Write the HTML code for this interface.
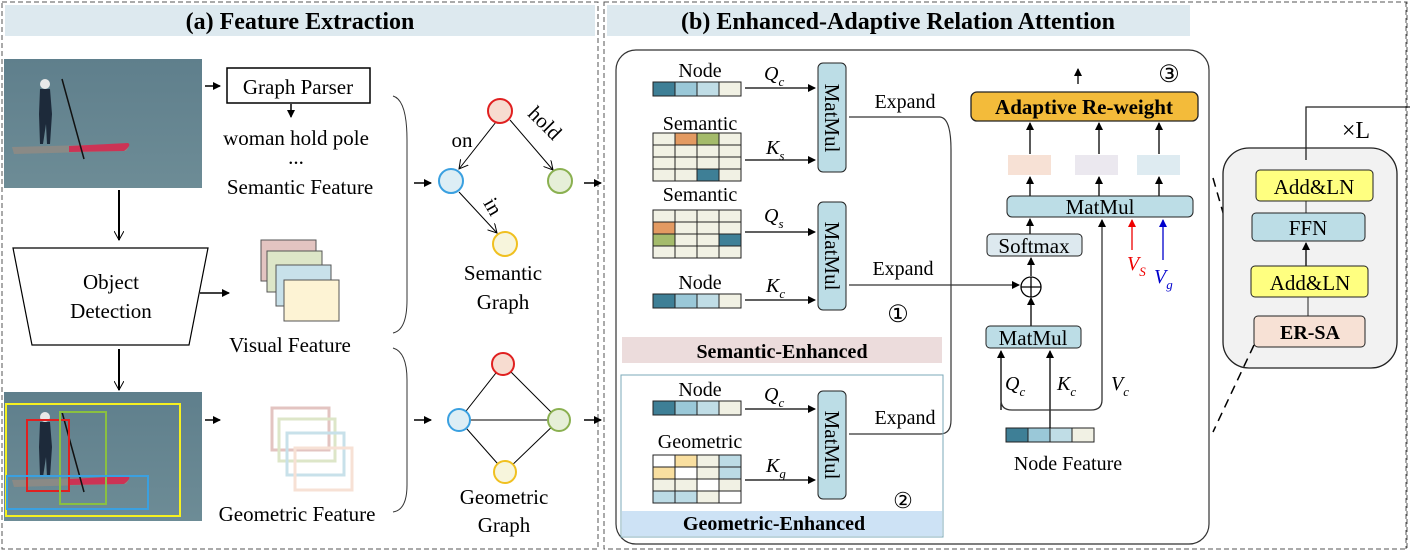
<!DOCTYPE html>
<html><head><meta charset="utf-8"><style>
html,body{margin:0;padding:0;background:#fff}
svg{display:block;font-family:"Liberation Serif",serif}
</style></head><body>
<svg width="1410" height="554" viewBox="0 0 1410 554" xmlns="http://www.w3.org/2000/svg">
<defs>
<marker id="a" markerWidth="8" markerHeight="8" refX="7" refY="4" orient="auto" markerUnits="userSpaceOnUse"><path d="M0,0 L8,4 L0,8 z" fill="#000"/></marker>
<marker id="ar" markerWidth="8" markerHeight="8" refX="7" refY="4" orient="auto" markerUnits="userSpaceOnUse"><path d="M0,0 L8,4 L0,8 z" fill="#e00"/></marker>
<marker id="ab" markerWidth="8" markerHeight="8" refX="7" refY="4" orient="auto" markerUnits="userSpaceOnUse"><path d="M0,0 L8,4 L0,8 z" fill="#00c"/></marker>
<marker id="o" markerWidth="10" markerHeight="10" refX="9" refY="5" orient="auto" markerUnits="userSpaceOnUse"><path d="M0,0 L9,5 L0,10" fill="none" stroke="#000"/></marker>
<linearGradient id="w" x1="0" y1="0" x2="0" y2="1"><stop offset="0" stop-color="#5f7f8c"/><stop offset="1" stop-color="#6d8c96"/></linearGradient>
<g id="photo">
<rect width="198" height="129" fill="url(#w)"/>
<path d="M8,88 L120,85 Q128,86 122,92 L10,95 z" fill="#8a8a86"/>
<path d="M65,87 L124,84 Q128,86 120,92 L65,93 z" fill="#cc3355"/>
<path d="M36,30 l10,0 l2,25 l-2,30 l-3,0 l-1,-20 l-3,20 l-3,0 l-1,-30 z" fill="#1d2a3a"/>
<circle cx="41" cy="25" r="5" fill="#e8e8e8"/>
<line x1="58" y1="20" x2="80" y2="100" stroke="#111" stroke-width="1.5"/>
</g>
</defs>

<!-- panel a -->
<rect x="2" y="2" width="596" height="547" fill="none" stroke="#555" stroke-dasharray="5,3"/>
<rect x="5" y="5" width="590" height="31" fill="#dde9ef"/>
<text x="300" y="29" font-size="24" font-weight="bold" text-anchor="middle">(a) Feature Extraction</text>

<use href="#photo" x="4" y="59"/>
<line x1="205" y1="86" x2="220" y2="86" stroke="#000" stroke-width="1.5" marker-end="url(#a)"/>
<rect x="227" y="68" width="143" height="35" fill="#fff" stroke="#000" stroke-width="1.5"/>
<text x="298" y="94" font-size="21" text-anchor="middle">Graph Parser</text>
<line x1="291" y1="104" x2="291" y2="117" stroke="#000" stroke-width="1.5" marker-end="url(#a)"/>
<text x="296" y="145" font-size="21" text-anchor="middle">woman hold pole</text>
<text x="296" y="164" font-size="21" text-anchor="middle">...</text>
<text x="300" y="194" font-size="21" text-anchor="middle">Semantic Feature</text>

<line x1="119" y1="190" x2="119" y2="240" stroke="#000" stroke-width="2" marker-end="url(#o)"/>
<polygon points="13,248 208,248 189,345 32,345" fill="#fff" stroke="#000" stroke-width="1.2"/>
<text x="111" y="289" font-size="21" text-anchor="middle">Object</text>
<text x="111" y="318" font-size="21" text-anchor="middle">Detection</text>
<line x1="200" y1="293" x2="229" y2="293" stroke="#000" stroke-width="1.5" marker-end="url(#a)"/>
<rect x="261" y="240" width="55" height="41" fill="#e3c4c1" stroke="#555"/>
<rect x="267" y="251" width="55" height="41" fill="#dde6c8" stroke="#555"/>
<rect x="276" y="265" width="55" height="41" fill="#c8e1ea" stroke="#555"/>
<rect x="284" y="280" width="55" height="41" fill="#fdf3d4" stroke="#555"/>
<text x="290" y="352" font-size="21" text-anchor="middle">Visual Feature</text>

<line x1="119" y1="349" x2="119" y2="390" stroke="#000" stroke-width="2" marker-end="url(#o)"/>
<use href="#photo" x="4" y="392"/>
<rect x="6" y="404" width="174" height="112" fill="none" stroke="#f5f020" stroke-width="2"/>
<rect x="27" y="420" width="42" height="71" fill="none" stroke="#e02020" stroke-width="2"/>
<rect x="60" y="412" width="46" height="92" fill="none" stroke="#8ac040" stroke-width="2"/>
<rect x="7" y="476" width="141" height="33" fill="none" stroke="#3aa0e0" stroke-width="2"/>
<line x1="205" y1="420" x2="220" y2="420" stroke="#000" stroke-width="1.5" marker-end="url(#a)"/>
<g fill="none" stroke-width="3">
<rect x="272" y="408" width="57" height="42" stroke="#e3c4c1"/>
<rect x="279" y="419" width="56" height="42" stroke="#dde6c8"/>
<rect x="287" y="433" width="57" height="42" stroke="#c8e1ea"/>
<rect x="295" y="448" width="57" height="42" stroke="#f7e1d5"/>
</g>
<text x="297" y="521" font-size="21" text-anchor="middle">Geometric Feature</text>

<path d="M393,96 Q407,100 407,140 L407,300 Q407,330 393,333" fill="none" stroke="#333"/>
<path d="M393,348 Q407,352 407,380 L407,485 Q407,510 393,512" fill="none" stroke="#333"/>
<line x1="414" y1="183" x2="431" y2="183" stroke="#000" stroke-width="1.5" marker-end="url(#a)"/>
<line x1="414" y1="420" x2="431" y2="420" stroke="#000" stroke-width="1.5" marker-end="url(#a)"/>

<!-- semantic graph -->
<line x1="496" y1="122" x2="459" y2="169" stroke="#000" marker-end="url(#o)"/>
<line x1="510" y1="120" x2="553" y2="170" stroke="#000" marker-end="url(#o)"/>
<line x1="459" y1="192" x2="497" y2="233" stroke="#000" marker-end="url(#o)"/>
<circle cx="500" cy="111" r="12" fill="#f7dcd0" stroke="#e02020" stroke-width="2"/>
<circle cx="451" cy="181" r="12" fill="#ddeef5" stroke="#3aa0e0" stroke-width="2"/>
<circle cx="560" cy="181" r="12" fill="#e6efd8" stroke="#8ab050" stroke-width="2"/>
<circle cx="505" cy="244" r="12" fill="#f7f5dc" stroke="#f0c020" stroke-width="2"/>
<text x="462" y="147" font-size="21" text-anchor="middle">on</text>
<text x="540" y="128" font-size="21" text-anchor="middle" transform="rotate(45 540 128)">hold</text>
<text x="487" y="210" font-size="21" text-anchor="middle" transform="rotate(60 487 210)">in</text>
<text x="503" y="280" font-size="21" text-anchor="middle">Semantic</text>
<text x="503" y="309" font-size="21" text-anchor="middle">Graph</text>

<!-- geometric graph -->
<g stroke="#000">
<line x1="503" y1="364" x2="459" y2="420"/><line x1="503" y1="364" x2="559" y2="420"/>
<line x1="459" y1="420" x2="559" y2="420"/><line x1="459" y1="420" x2="505" y2="472"/><line x1="559" y1="420" x2="505" y2="472"/>
</g>
<circle cx="503" cy="364" r="11" fill="#f7dcd0" stroke="#e02020" stroke-width="2"/>
<circle cx="459" cy="420" r="11" fill="#ddeef5" stroke="#3aa0e0" stroke-width="2"/>
<circle cx="559" cy="420" r="11" fill="#e6efd8" stroke="#8ab050" stroke-width="2"/>
<circle cx="505" cy="472" r="11" fill="#f7f5dc" stroke="#f0c020" stroke-width="2"/>
<text x="504" y="504" font-size="21" text-anchor="middle">Geometric</text>
<text x="504" y="532" font-size="21" text-anchor="middle">Graph</text>
<line x1="584" y1="183" x2="601" y2="183" stroke="#000" stroke-width="1.5" marker-end="url(#a)"/>
<line x1="584" y1="420" x2="601" y2="420" stroke="#000" stroke-width="1.5" marker-end="url(#a)"/>

<!-- panel b -->
<rect x="604" y="2" width="803" height="547" fill="none" stroke="#555" stroke-dasharray="5,3"/>
<line x1="1406" y1="2" x2="1406" y2="549" stroke="#555" stroke-dasharray="5,3"/>
<rect x="607" y="5" width="583" height="31" fill="#dde9ef"/>
<text x="898" y="29" font-size="24" font-weight="bold" text-anchor="middle">(b) Enhanced-Adaptive Relation Attention</text>
<rect x="616" y="50" width="593" height="494" rx="20" fill="none" stroke="#333" stroke-width="1.2"/>

<g id="nodebar" stroke="#222">
<rect x="653" y="82" width="22" height="14" fill="#3e7f96"/><rect x="675" y="82" width="22" height="14" fill="#9ac8d8"/>
<rect x="697" y="82" width="22" height="14" fill="#c0dde6"/><rect x="719" y="82" width="22" height="14" fill="#f1f1e4"/>
</g>
<use href="#nodebar" x="0" y="212"/>
<use href="#nodebar" x="0" y="319"/>
<use href="#nodebar" x="353" y="346"/>
<text x="700" y="77" font-size="20" text-anchor="middle">Node</text>
<text x="700" y="289" font-size="20" text-anchor="middle">Node</text>
<text x="700" y="396" font-size="20" text-anchor="middle">Node</text>
<text x="700" y="130" font-size="20" text-anchor="middle">Semantic</text>
<text x="700" y="201" font-size="20" text-anchor="middle">Semantic</text>
<text x="700" y="448" font-size="20" text-anchor="middle">Geometric</text>

<g stroke="#222">
<!-- grid1 -->
<rect x="653" y="133" width="22" height="12" fill="#f1f1e4"/><rect x="675" y="133" width="22" height="12" fill="#e39a62"/><rect x="697" y="133" width="22" height="12" fill="#a4bb6b"/><rect x="719" y="133" width="22" height="12" fill="#f1f1e4"/>
<rect x="653" y="145" width="22" height="12" fill="#f1f1e4"/><rect x="675" y="145" width="22" height="12" fill="#f1f1e4"/><rect x="697" y="145" width="22" height="12" fill="#f1f1e4"/><rect x="719" y="145" width="22" height="12" fill="#f1f1e4"/>
<rect x="653" y="157" width="22" height="12" fill="#f1f1e4"/><rect x="675" y="157" width="22" height="12" fill="#f1f1e4"/><rect x="697" y="157" width="22" height="12" fill="#f1f1e4"/><rect x="719" y="157" width="22" height="12" fill="#f1f1e4"/>
<rect x="653" y="169" width="22" height="12" fill="#f1f1e4"/><rect x="675" y="169" width="22" height="12" fill="#f1f1e4"/><rect x="697" y="169" width="22" height="12" fill="#3e7f96"/><rect x="719" y="169" width="22" height="12" fill="#f1f1e4"/>
<!-- grid2 -->
<rect x="653" y="210" width="22" height="12" fill="#f1f1e4"/><rect x="675" y="210" width="22" height="12" fill="#f1f1e4"/><rect x="697" y="210" width="22" height="12" fill="#f1f1e4"/><rect x="719" y="210" width="22" height="12" fill="#f1f1e4"/>
<rect x="653" y="222" width="22" height="12" fill="#e39a62"/><rect x="675" y="222" width="22" height="12" fill="#f1f1e4"/><rect x="697" y="222" width="22" height="12" fill="#f1f1e4"/><rect x="719" y="222" width="22" height="12" fill="#f1f1e4"/>
<rect x="653" y="234" width="22" height="12" fill="#a4bb6b"/><rect x="675" y="234" width="22" height="12" fill="#f1f1e4"/><rect x="697" y="234" width="22" height="12" fill="#f1f1e4"/><rect x="719" y="234" width="22" height="12" fill="#3e7f96"/>
<rect x="653" y="246" width="22" height="12" fill="#f1f1e4"/><rect x="675" y="246" width="22" height="12" fill="#f1f1e4"/><rect x="697" y="246" width="22" height="12" fill="#f1f1e4"/><rect x="719" y="246" width="22" height="12" fill="#f1f1e4"/>
<!-- grid3 -->
<rect x="653" y="455" width="22" height="12" fill="#fff"/><rect x="675" y="455" width="22" height="12" fill="#f9dfa0"/><rect x="697" y="455" width="22" height="12" fill="#f1f1e4"/><rect x="719" y="455" width="22" height="12" fill="#bcdbe5"/>
<rect x="653" y="467" width="22" height="12" fill="#f9dfa0"/><rect x="675" y="467" width="22" height="12" fill="#fff"/><rect x="697" y="467" width="22" height="12" fill="#f1f1e4"/><rect x="719" y="467" width="22" height="12" fill="#bcdbe5"/>
<rect x="653" y="479" width="22" height="12" fill="#f1f1e4"/><rect x="675" y="479" width="22" height="12" fill="#f1f1e4"/><rect x="697" y="479" width="22" height="12" fill="#fff"/><rect x="719" y="479" width="22" height="12" fill="#f1f1e4"/>
<rect x="653" y="491" width="22" height="12" fill="#bcdbe5"/><rect x="675" y="491" width="22" height="12" fill="#bcdbe5"/><rect x="697" y="491" width="22" height="12" fill="#f1f1e4"/><rect x="719" y="491" width="22" height="12" fill="#fff"/>
</g>

<g stroke="#000" stroke-width="1.3">
<line x1="745" y1="88" x2="815" y2="88" marker-end="url(#a)"/>
<line x1="745" y1="160" x2="815" y2="160" marker-end="url(#a)"/>
<line x1="745" y1="232" x2="815" y2="232" marker-end="url(#a)"/>
<line x1="745" y1="300" x2="815" y2="300" marker-end="url(#a)"/>
<line x1="745" y1="409" x2="815" y2="409" marker-end="url(#a)"/>
<line x1="745" y1="480" x2="815" y2="480" marker-end="url(#a)"/>
</g>
<g font-size="20" font-style="italic">
<text x="764" y="80">Q<tspan font-size="13" dy="6">c</tspan></text>
<text x="766" y="154">K<tspan font-size="13" dy="6">s</tspan></text>
<text x="764" y="222">Q<tspan font-size="13" dy="6">s</tspan></text>
<text x="766" y="292">K<tspan font-size="13" dy="6">c</tspan></text>
<text x="764" y="401">Q<tspan font-size="13" dy="6">c</tspan></text>
<text x="766" y="472">K<tspan font-size="13" dy="6">g</tspan></text>
</g>
<g fill="#bcdde6" stroke="#222">
<rect x="818" y="63" width="28" height="109" rx="5"/>
<rect x="818" y="202" width="28" height="108" rx="5"/>
<rect x="818" y="391" width="28" height="108" rx="5"/>
</g>
<g font-size="21" text-anchor="middle">
<text transform="translate(825,118) rotate(90)">MatMul</text>
<text transform="translate(825,256) rotate(90)">MatMul</text>
<text transform="translate(825,445) rotate(90)">MatMul</text>
</g>
<text x="905" y="108" font-size="20" text-anchor="middle">Expand</text>
<text x="903" y="275" font-size="20" text-anchor="middle">Expand</text>
<text x="905" y="424" font-size="20" text-anchor="middle">Expand</text>
<path d="M849,117 L940,117 Q951,118 951,150 L951,420 Q951,434 940,434 L849,434" fill="none" stroke="#333" stroke-width="1.2"/>
<line x1="849" y1="285" x2="1019" y2="285" stroke="#333" stroke-width="1.2" marker-end="url(#a)"/>
<text x="898" y="322" font-size="24" text-anchor="middle">①</text>
<rect x="622" y="337" width="320" height="26" fill="#ecdcdc"/>
<text x="782" y="358" font-size="20" font-weight="bold" text-anchor="middle">Semantic-Enhanced</text>
<rect x="621" y="375" width="322" height="162" fill="none" stroke="#7ba9b8"/>
<rect x="622" y="511" width="320" height="25" fill="#cde2f5"/>
<text x="774" y="530" font-size="20" font-weight="bold" text-anchor="middle">Geometric-Enhanced</text>
<text x="903" y="508" font-size="22" text-anchor="middle">②</text>

<!-- attention -->
<line x1="1078" y1="84" x2="1078" y2="69" stroke="#000" stroke-width="1.3" marker-end="url(#a)"/>
<text x="1169" y="82" font-size="24" text-anchor="middle">③</text>
<rect x="971" y="92" width="227" height="29" rx="6" fill="#f3bb3a" stroke="#222" stroke-width="1.3"/>
<text x="1084" y="114" font-size="21" font-weight="bold" text-anchor="middle">Adaptive Re-weight</text>
<rect x="1008" y="155" width="43" height="20" fill="#f7e1d5"/>
<rect x="1075" y="155" width="43" height="20" fill="#ebe8ef"/>
<rect x="1137" y="155" width="43" height="20" fill="#deebf1"/>
<g stroke="#000" stroke-width="1.3" marker-end="url(#a)">
<line x1="1030" y1="154" x2="1030" y2="123"/><line x1="1099" y1="154" x2="1099" y2="123"/><line x1="1159" y1="154" x2="1159" y2="123"/>
<line x1="1030" y1="196" x2="1030" y2="177"/><line x1="1099" y1="196" x2="1099" y2="177"/><line x1="1159" y1="196" x2="1159" y2="177"/>
<line x1="1030" y1="234" x2="1030" y2="219"/>
<line x1="1031" y1="276" x2="1031" y2="258"/>
<line x1="1031" y1="326" x2="1031" y2="298"/>
<path d="M1001,410 L1001,351" fill="none"/>
<path d="M1050,428 L1050,351" fill="none"/>
</g>
<path d="M1001,400 Q1001,410 1012,410 L1091,410 Q1102,410 1102,400 L1102,220" fill="none" stroke="#333" stroke-width="1.3" marker-end="url(#a)"/>
<line x1="1132" y1="250" x2="1132" y2="220" stroke="#e00" stroke-width="1.3" marker-end="url(#ar)"/>
<line x1="1163" y1="260" x2="1163" y2="220" stroke="#00c" stroke-width="1.3" marker-end="url(#ab)"/>
<rect x="1007" y="196" width="186" height="21" rx="5" fill="#bcdde6" stroke="#222"/>
<text x="1100" y="214" font-size="21" text-anchor="middle">MatMul</text>
<rect x="987" y="234" width="95" height="22" rx="4" fill="#dde9ef" stroke="#222"/>
<text x="1034" y="253" font-size="21" text-anchor="middle">Softmax</text>
<circle cx="1031" cy="287" r="10" fill="#fff" stroke="#000" stroke-width="1.3"/>
<path d="M1021,287 H1041 M1031,277 V297" stroke="#000" stroke-width="1.3"/>
<rect x="986" y="326" width="95" height="22" rx="4" fill="#bcdde6" stroke="#222"/>
<text x="1033" y="345" font-size="21" text-anchor="middle">MatMul</text>
<g font-size="20" font-style="italic">
<text x="1005" y="390">Q<tspan font-size="13" dy="6">c</tspan></text>
<text x="1057" y="390">K<tspan font-size="13" dy="6">c</tspan></text>
<text x="1111" y="390">V<tspan font-size="13" dy="6">c</tspan></text>
<text x="1127" y="270" fill="#e00">V<tspan font-size="13" dy="6">S</tspan></text>
<text x="1154" y="283" fill="#00c">V<tspan font-size="13" dy="6">g</tspan></text>
</g>
<text x="1068" y="470" font-size="20" text-anchor="middle">Node Feature</text>

<!-- right -->
<path d="M1213,178 L1254,320" stroke="#000" stroke-width="1.5" stroke-dasharray="9,6"/>
<rect x="1223" y="148" width="174" height="220" rx="26" fill="#f2f2f2" stroke="#222" stroke-width="1.3"/>
<path d="M1254,345 L1213,432" stroke="#000" stroke-width="1.5" stroke-dasharray="9,6"/>
<path d="M1306,160 L1306,107 L1410,107" fill="none" stroke="#222" stroke-width="1.3"/>
<text x="1356" y="138" font-size="24" text-anchor="middle">×L</text>
<line x1="1306" y1="201" x2="1306" y2="213" stroke="#222"/>
<line x1="1306" y1="266" x2="1306" y2="243" stroke="#000" stroke-width="1.3" marker-end="url(#a)"/>
<line x1="1308" y1="297" x2="1308" y2="316" stroke="#222"/>
<rect x="1256" y="170" width="117" height="31" rx="4" fill="#ffff80" stroke="#222"/>
<text x="1314" y="194" font-size="21" text-anchor="middle">Add&amp;LN</text>
<rect x="1252" y="213" width="113" height="28" rx="4" fill="#bcdde6" stroke="#222"/>
<text x="1308" y="235" font-size="21" text-anchor="middle">FFN</text>
<rect x="1251" y="266" width="117" height="31" rx="4" fill="#ffff80" stroke="#222"/>
<text x="1310" y="290" font-size="21" text-anchor="middle">Add&amp;LN</text>
<rect x="1254" y="316" width="111" height="31" rx="4" fill="#f7e1d5" stroke="#222"/>
<text x="1310" y="339" font-size="20" font-weight="bold" text-anchor="middle">ER-SA</text>
</svg>
</body></html>
